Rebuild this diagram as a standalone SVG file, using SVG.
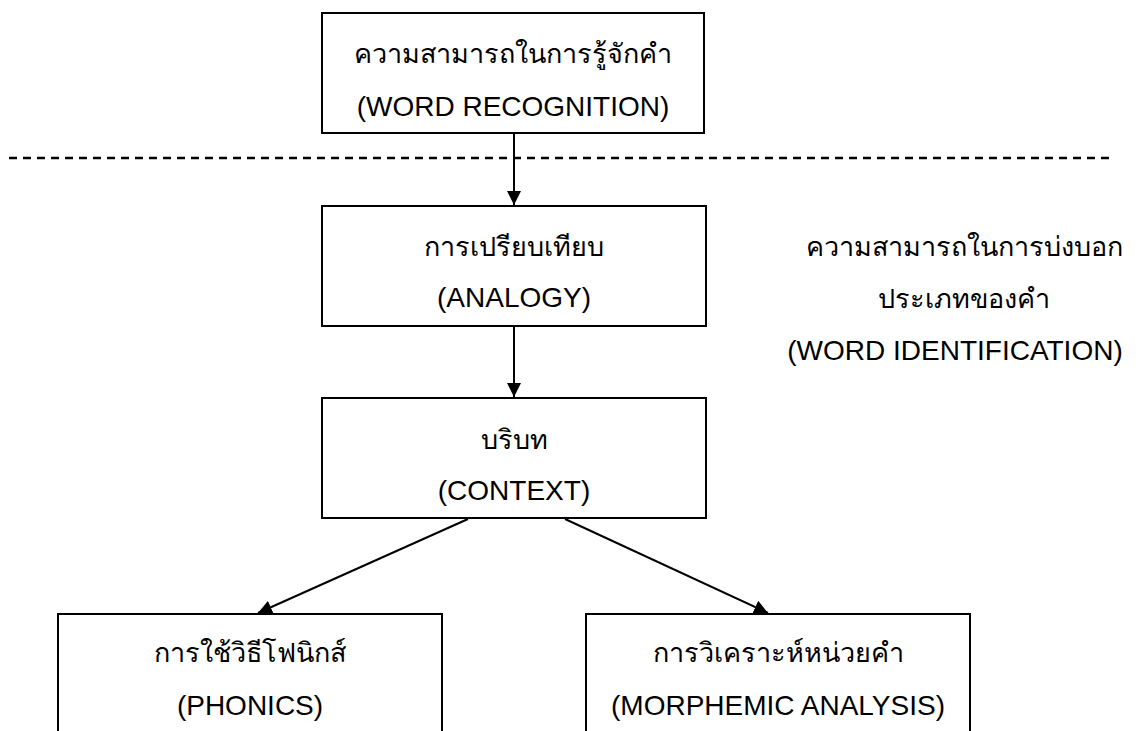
<svg xmlns="http://www.w3.org/2000/svg" width="1141" height="731" viewBox="0 0 1141 731">
<style>
.box{fill:#fff;stroke:#000;stroke-width:2}
.t{font-family:"Liberation Sans","Noto Sans","DejaVu Sans",sans-serif;font-size:27px;fill:#000;text-anchor:middle}
.e{font-size:28px}
.c{stroke:#000;stroke-width:2;fill:none}
.dash{stroke:#000;stroke-width:2.5;stroke-dasharray:8 6;fill:none}
</style>
<defs>
<marker id="ah" markerWidth="14" markerHeight="14" viewBox="0 0 14 14" refX="14" refY="7" orient="auto" markerUnits="userSpaceOnUse">
<path d="M0,0 L14,7 L0,14 Z" fill="#000"/>
</marker>
</defs>
<rect width="1141" height="731" fill="#fff"/>
<line class="dash" x1="9" y1="158" x2="1110" y2="158"/>
<g id="connectors">
<line class="c" x1="514" y1="134" x2="514" y2="205" marker-end="url(#ah)"/>
<line class="c" x1="514" y1="327" x2="514" y2="397" marker-end="url(#ah)"/>
<line class="c" x1="468" y1="519" x2="258" y2="613" marker-end="url(#ah)"/>
<line class="c" x1="565" y1="519" x2="768" y2="613" marker-end="url(#ah)"/>
</g>
<g id="word-recognition">
<rect class="box" x="322" y="13" width="382" height="120"/>
<text class="t" x="513" y="63">ความสามารถในการรู้จักคำ</text>
<text class="t e" x="513" y="116">(WORD RECOGNITION)</text>
</g>
<g id="analogy">
<rect class="box" x="322" y="206" width="384" height="120"/>
<text class="t" x="514" y="256">การเปรียบเทียบ</text>
<text class="t e" x="514" y="307">(ANALOGY)</text>
</g>
<g id="context">
<rect class="box" x="322" y="398" width="384" height="120"/>
<text class="t" x="514" y="449">บริบท</text>
<text class="t e" x="514" y="500">(CONTEXT)</text>
</g>
<g id="phonics">
<rect class="box" x="58" y="614" width="384" height="130"/>
<text class="t" x="250" y="662">การใช้วิธีโฟนิกส์</text>
<text class="t e" x="250" y="715">(PHONICS)</text>
</g>
<g id="morphemic">
<rect class="box" x="586" y="614" width="384" height="130"/>
<text class="t" x="778" y="662">การวิเคราะห์หน่วยคำ</text>
<text class="t e" x="778" y="715">(MORPHEMIC ANALYSIS)</text>
</g>
<g id="word-identification">
<text class="t" x="964" y="256">ความสามารถในการบ่งบอก</text>
<text class="t" x="964" y="308">ประเภทของคำ</text>
<text class="t e" x="955" y="360">(WORD IDENTIFICATION)</text>
</g>
</svg>
